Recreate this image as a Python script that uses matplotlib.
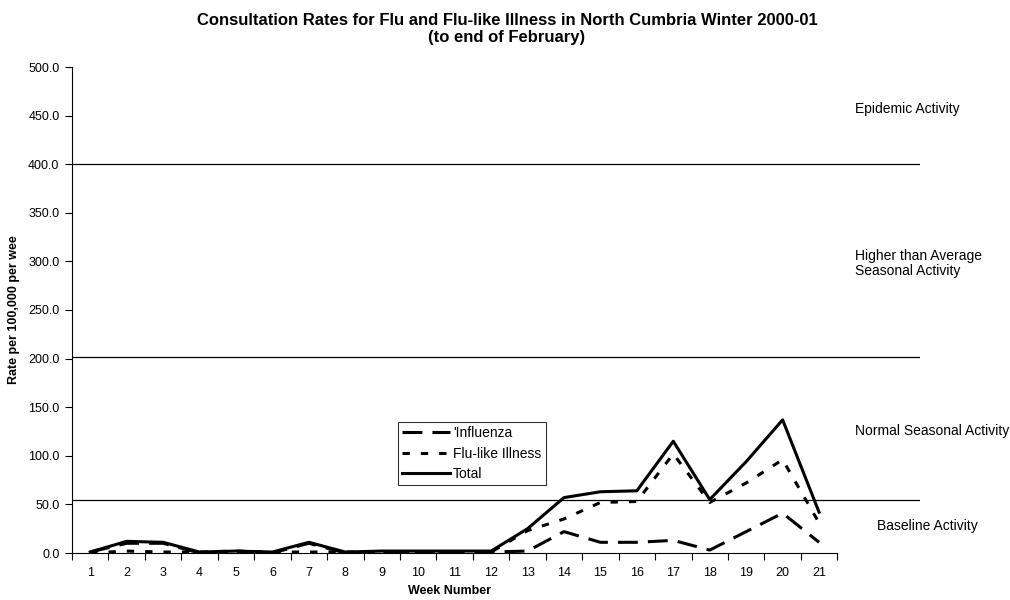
import matplotlib.pyplot as plt

plt.rcParams['font.family'] = ['Liberation Sans', 'DejaVu Sans']

weeks = list(range(1, 22))
influenza = [1, 10, 10, 0, 0, 0, 10, 0, 1, 1, 1, 1, 2, 22, 11, 11, 13, 3, 22, 41, 11]
flu_like = [0, 2, 1, 1, 2, 1, 1, 1, 1, 1, 1, 1, 23, 35, 52, 53, 102, 52, 72, 96, 31]
total = [1, 12, 11, 1, 2, 1, 11, 1, 2, 2, 2, 2, 25, 57, 63, 64, 115, 55, 94, 137, 42]

thresholds = [400, 201.5, 55]
zone_labels = ['Epidemic Activity', 'Higher than Average\nSeasonal Activity',
               'Normal Seasonal Activity', 'Baseline Activity']
zone_y = [457, 298, 125, 28]
zone_x = [22.0, 22.0, 22.0, 22.6]

fig = plt.figure(figsize=(10.1, 6), dpi=100)
ax = fig.add_axes([72 / 1010, 47 / 600, 848 / 1010, 486 / 600])

for t in thresholds:
    ax.axhline(t, color='black', lw=0.9)

ax.plot(weeks, influenza, color='black', lw=2.2, dashes=(6.5, 3.3), label="'Influenza")
ax.plot(weeks, flu_like, color='black', lw=2.2, dashes=(2.4, 3.6), label='Flu-like Illness')
ax.plot(weeks, total, color='black', lw=2.2, label='Total')

ax.set_xlim(0.5, 23.77)
ax.set_ylim(0, 500)
ax.spines['top'].set_visible(False)
ax.spines['right'].set_visible(False)
ax.spines['bottom'].set_bounds(0.5, 21.5)

# tick marks sit between the weeks, labels in the middle
ax.set_xticks([w + 0.5 for w in range(0, 22)])
ax.set_xticklabels([])
ax.set_xticks(weeks, minor=True)
ax.set_xticklabels([str(w) for w in weeks], minor=True, fontsize=9)
ax.tick_params(axis='x', which='minor', length=0, pad=10)
ax.tick_params(axis='x', which='major', length=5, direction='out')

ax.set_yticks(range(0, 501, 50))
ax.set_yticklabels(['%.1f' % v for v in range(0, 501, 50)], fontsize=9)
ax.tick_params(axis='y', length=5, direction='out', pad=4)

ax.set_xlabel('Week Number', fontsize=9, fontweight='bold')
ax.xaxis.set_label_coords((450 - 72) / 848, -0.065)
ax.set_ylabel('Rate per 100,000 per wee', fontsize=9, fontweight='bold')
ax.yaxis.set_label_coords(-0.0613, 0.5)

for lbl, y, x in zip(zone_labels, zone_y, zone_x):
    ax.text(x, y, lbl, fontsize=10, va='center', ha='left', linespacing=1.1)

fig.text(507 / 1010, 0.978, 'Consultation Rates for Flu and Flu-like Illness in North Cumbria Winter 2000-01\n(to end of February)',
         ha='center', va='top', fontsize=12, fontweight='bold', linespacing=1.15)

leg = ax.legend(loc='lower left', bbox_to_anchor=(0.384, 0.14), borderaxespad=0,
                fontsize=10, frameon=True, fancybox=False, handlelength=3.5,
                handletextpad=0.2, labelspacing=0.45, borderpad=0.3)
leg.get_frame().set_edgecolor('black')
leg.get_frame().set_linewidth(0.8)

fig.savefig('out.png', dpi=100)
